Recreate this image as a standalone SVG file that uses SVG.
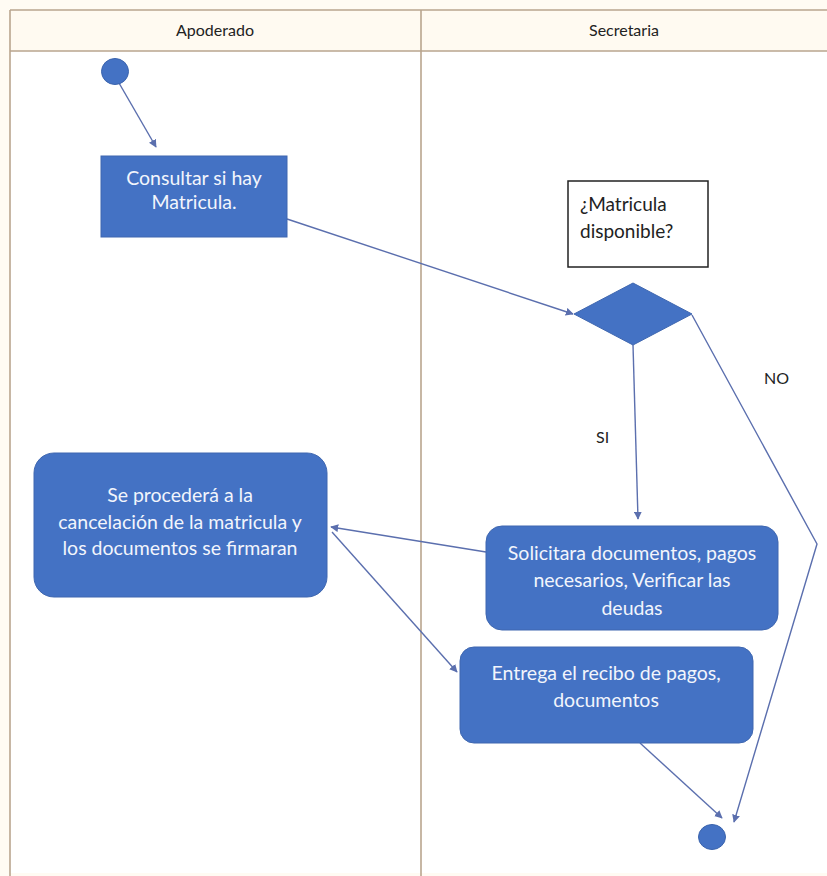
<svg xmlns="http://www.w3.org/2000/svg" width="827" height="876" viewBox="0 0 827 876">
  <defs>
    <marker id="arrow" viewBox="0 0 10 10" refX="9" refY="5" markerWidth="8" markerHeight="8" markerUnits="userSpaceOnUse" orient="auto">
      <path d="M0,0 L10,5 L0,10 z" fill="#5b6fae"/>
    </marker>
    <style>
      .lane { fill: none; stroke: #b9a58e; stroke-width: 1.6; }
      .act { fill: #4472c4; stroke: #3f67b0; stroke-width: 1; }
      .act-text { font-family: Lato, "Open Sans", sans-serif; font-size: 19.5px; fill: #f2f5fc; text-anchor: middle; }
      .head { font-family: Lato, "Open Sans", sans-serif; font-size: 16px; fill: #222; text-anchor: middle; }
      .label { font-family: Lato, "Open Sans", sans-serif; font-size: 16px; fill: #222; }
      .question { font-family: Lato, "Open Sans", sans-serif; font-size: 19px; fill: #222; }
      .flow { fill: none; stroke: #5b6fae; stroke-width: 1.4; marker-end: url(#arrow); }
      .dot { fill: #4472c4; stroke: #3a63ad; stroke-width: 1; }
    </style>
  </defs>

  <!-- page background -->
  <rect x="0" y="0" width="827" height="876" fill="#fffbf3"/>

  <!-- swimlane table -->
  <g id="swimlanes">
    <rect x="10" y="10" width="830" height="41" fill="#fffaf1"/>
    <rect x="10" y="51" width="830" height="822" fill="#ffffff"/>
    <line class="lane" x1="10" y1="10" x2="827" y2="10"/>
    <line class="lane" x1="10" y1="51" x2="827" y2="51"/>
    <line class="lane" x1="10" y1="10" x2="10" y2="876"/>
    <line class="lane" x1="421" y1="10" x2="421" y2="876"/>
    <text class="head" x="215" y="36">Apoderado</text>
    <text class="head" x="624" y="36">Secretaria</text>
  </g>

  <!-- connectors -->
  <g id="connectors">
    <line class="flow" x1="119" y1="83" x2="156" y2="147"/>
    <line class="flow" x1="287" y1="219" x2="573" y2="314"/>
    <line class="flow" x1="633" y1="345" x2="638" y2="519"/>
    <polyline class="flow" points="692,315 817,544 734,822"/>
    <line class="flow" x1="486" y1="552" x2="331" y2="527"/>
    <line class="flow" x1="332" y1="532" x2="457" y2="672"/>
    <line class="flow" x1="640" y1="743" x2="722" y2="818"/>
    <text class="label" x="596" y="443">SI</text>
    <text class="label" x="764" y="384">NO</text>
  </g>

  <g id="start">
    <ellipse class="dot" cx="115" cy="71.5" rx="13.5" ry="13"/>
  </g>

  <g id="consultar">
    <rect class="act" x="101" y="156" width="186" height="81"/>
    <text class="act-text" x="194" y="185">Consultar si hay</text>
    <text class="act-text" x="194" y="209">Matricula.</text>
  </g>

  <g id="pregunta">
    <rect x="568" y="181" width="140" height="86" fill="#ffffff" stroke="#222" stroke-width="1.5"/>
    <text class="question" x="580" y="211">¿Matricula</text>
    <text class="question" x="580" y="238">disponible?</text>
  </g>

  <g id="decision">
    <polygon class="act" points="633,283 692,314 633,345 574,314"/>
  </g>

  <g id="solicitar">
    <rect class="act" x="486" y="526" width="292" height="104" rx="16" ry="16"/>
    <text class="act-text" x="632" y="560">Solicitara documentos, pagos</text>
    <text class="act-text" x="632" y="587">necesarios, Verificar las</text>
    <text class="act-text" x="632" y="615">deudas</text>
  </g>

  <g id="cancelacion">
    <rect class="act" x="34" y="453" width="293" height="144" rx="20" ry="20"/>
    <text class="act-text" x="180" y="502">Se procederá a la</text>
    <text class="act-text" x="180" y="529">cancelación de la matricula y</text>
    <text class="act-text" x="180" y="555">los documentos se firmaran</text>
  </g>

  <g id="entrega">
    <rect class="act" x="460" y="647" width="293" height="96" rx="14" ry="14"/>
    <text class="act-text" x="606" y="680">Entrega el recibo de pagos,</text>
    <text class="act-text" x="606" y="707">documentos</text>
  </g>

  <g id="end">
    <ellipse class="dot" cx="712" cy="837" rx="13.5" ry="12.5"/>
  </g>
</svg>
